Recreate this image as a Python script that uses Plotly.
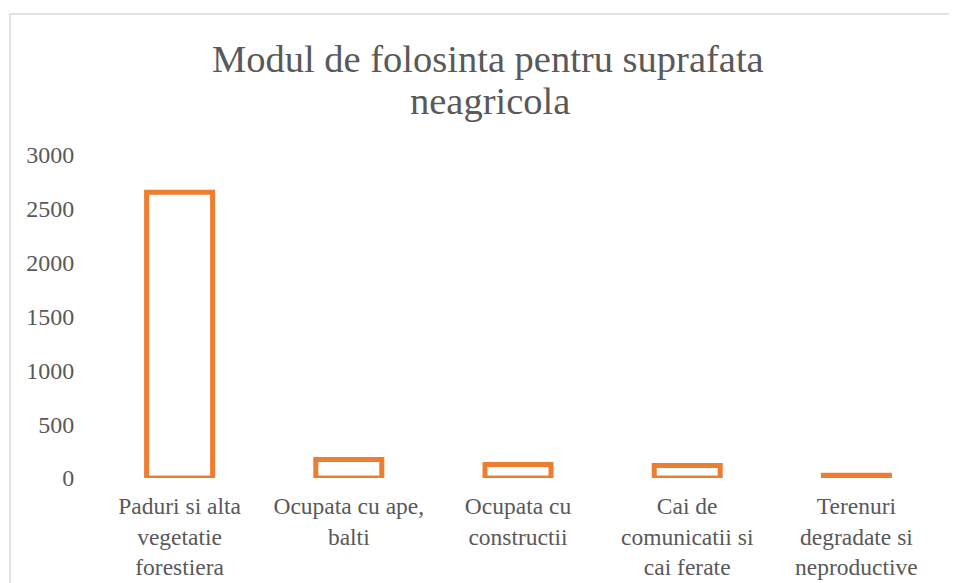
import plotly.graph_objects as go

categories = [
    "Paduri si alta<br>vegetatie<br>forestiera",
    "Ocupata cu ape,<br>balti",
    "Ocupata cu<br>constructii",
    "Cai de<br>comunicatii si<br>cai ferate",
    "Terenuri<br>degradate si<br>neproductive",
]
values = [2655, 172, 126, 116, 25]
y_ticks = [0, 500, 1000, 1500, 2000, 2500, 3000]
title_lines = ["Modul de folosinta pentru suprafata", "neagricola"]

ORANGE = "#ED7D31"
GREY = "#595959"
FONT = "Liberation Serif"

fig = go.Figure(go.Bar(
    x=categories, y=values,
    marker=dict(color="white", line=dict(color=ORANGE, width=5)),
    width=0.39,
))

fig.update_layout(
    width=949, height=575,
    margin=dict(l=87, r=16, t=147, b=105),
    paper_bgcolor="white", plot_bgcolor="white",
    showlegend=False,
    font=dict(family=FONT, size=23.5, color=GREY),
    xaxis=dict(showgrid=False, showline=False, zeroline=False, automargin=False,
               tickfont=dict(family=FONT, size=23.5, color=GREY),
               ticks="outside", ticklen=7, tickcolor="rgba(0,0,0,0)"),
    yaxis=dict(range=[0, 3000], tickvals=y_ticks, showgrid=False,
               showline=False, zeroline=False, automargin=False,
               tickfont=dict(family=FONT, size=24, color=GREY),
               ticks="outside", ticklen=15, tickcolor="rgba(0,0,0,0)"),
    annotations=[
        dict(text=title_lines[0], xref="paper", yref="paper",
             x=0.4645, y=1.2985, xanchor="center", yanchor="middle",
             showarrow=False, font=dict(family=FONT, size=38.5, color=GREY)),
        dict(text=title_lines[1], xref="paper", yref="paper",
             x=0.467, y=1.1684, xanchor="center", yanchor="middle",
             showarrow=False, font=dict(family=FONT, size=38.5, color=GREY)),
    ],
    shapes=[dict(type="rect", xref="paper", yref="paper",
                 x0=-0.1005, x1=1.2, y0=-0.6, y1=1.4365,
                 line=dict(color="#D9D9D9", width=1.5),
                 fillcolor="rgba(0,0,0,0)", layer="below")],
)

fig.write_html("out.html")
